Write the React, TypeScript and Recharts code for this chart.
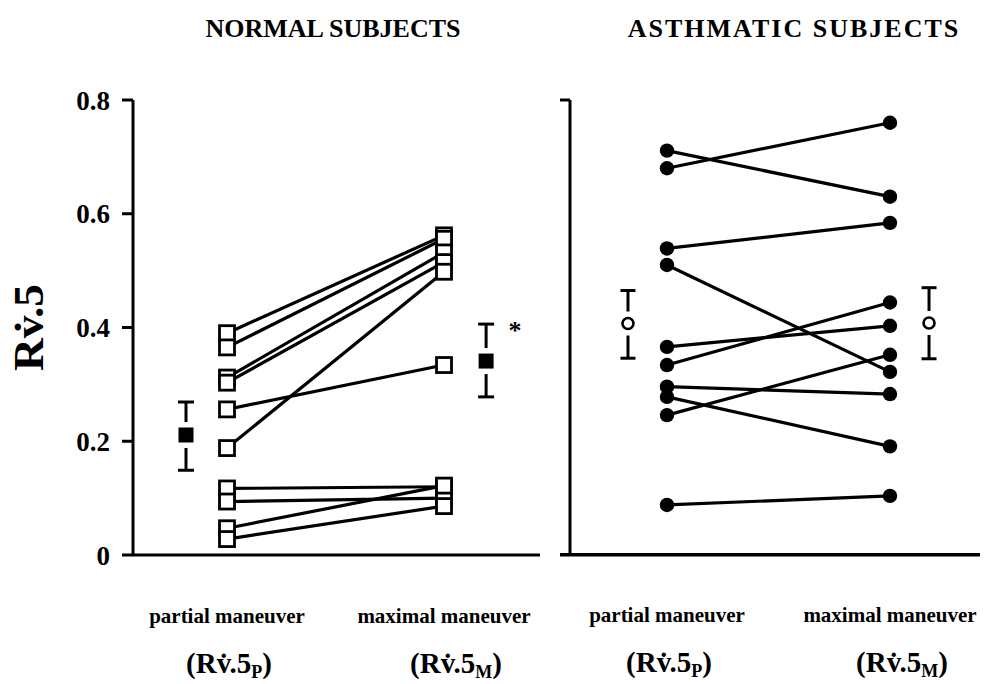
import React from 'react';
import { ScatterChart, Scatter, XAxis, YAxis, ErrorBar, ReferenceLine } from 'recharts';

// ---------- data ----------
const categories = ['partial maneuver', 'maximal maneuver'];
const categorySymbolSub = ['P', 'M'];
const panelTitles = ['NORMAL SUBJECTS', 'ASTHMATIC SUBJECTS'];
const yTicks = [0, 0.2, 0.4, 0.6, 0.8];
const yLabel = 'Rv\u0307.5';

// individual subjects (partial -> maximal)
const normalPartial = [0.39, 0.365, 0.312, 0.303, 0.188, 0.256, 0.117, 0.094, 0.047, 0.028];
const normalMaximal = [0.562, 0.556, 0.532, 0.515, 0.498, 0.334, 0.12, 0.1, 0.122, 0.086];

const asthmaPartial = [0.711, 0.68, 0.539, 0.51, 0.366, 0.334, 0.296, 0.278, 0.246, 0.088];
const asthmaMaximal = [0.63, 0.76, 0.584, 0.322, 0.403, 0.444, 0.283, 0.191, 0.352, 0.104];

// group means with error (below, above)
const normalMean = [0.211, 0.341];
const normalMeanErr = [[0.062, 0.058], [0.063, 0.065]];
const normalSig = [false, true];

const asthmaMean = [0.407, 0.408];
const asthmaMeanErr = [[0.061, 0.058], [0.063, 0.062]];
const asthmaSig = [false, false];

// ---------- layout constants (axis units) ----------
const CAT_X = [1, 2];
const LABEL_DX = [2, 12];
const FONT = '"Liberation Serif", "DejaVu Serif", serif';
const N_DOMAIN: [number, number] = [0.5668, 4.47];
const N_FRAME = [0.5668, 2.4424];
const A_DOMAIN: [number, number] = [-1.3946, 2.4036];
const A_AXIS_X = 0.565;
const A_TICK_START = 0.52;
const A_FRAME = [A_TICK_START, A_DOMAIN[1]];

const buildLines = (a: number[], b: number[]) =>
  a.map((v, i) => [
    { x: CAT_X[0], y: v },
    { x: CAT_X[1], y: b[i] },
  ]);

const buildMeans = (m: number[], e: number[][], s: boolean[], offsets: number[]) =>
  m.map((v, i) => ({ x: CAT_X[i] + offsets[i], y: v, err: e[i], sig: s[i] }));

const normalLines = buildLines(normalPartial, normalMaximal);
const asthmaLines = buildLines(asthmaPartial, asthmaMaximal);
const normalPoints = normalLines.flat();
const asthmaPoints = asthmaLines.flat();
const normalMeans = buildMeans(normalMean, normalMeanErr, normalSig, [-0.189, 0.194]);
const asthmaMeans = buildMeans(asthmaMean, asthmaMeanErr, asthmaSig, [-0.175, 0.175]);

// ---------- shapes ----------
const Empty = () => <g />;
const OpenSquare = (p: any) => (
  <rect x={p.cx - 7.5} y={p.cy - 7.5} width={15} height={15} fill="#fff" stroke="#000" strokeWidth={2.8} />
);
const FilledDot = (p: any) => <circle cx={p.cx} cy={p.cy} r={7.2} fill="#000" />;
const MeanSquare = (p: any) => (
  <g>
    <rect x={p.cx - 3} y={p.cy - 13} width={6} height={26} fill="#fff" />
    <rect x={p.cx - 7.5} y={p.cy - 7.5} width={15} height={15} fill="#000" />
    {p.payload && p.payload.sig ? (
      <text x={p.cx + 29} y={p.cy - 22} textAnchor="middle" fontFamily={FONT} fontWeight="bold" fontSize={26} fill="#000">
        *
      </text>
    ) : null}
  </g>
);
const MeanCircle = (p: any) => (
  <g>
    <rect x={p.cx - 3} y={p.cy - 12} width={6} height={24} fill="#fff" />
    <circle cx={p.cx} cy={p.cy} r={5.5} fill="#fff" stroke="#000" strokeWidth={2.6} />
  </g>
);

const CategoryTick = (p: any) => {
  const i = CAT_X.indexOf(p.payload.value);
  if (i < 0) return <g />;
  return (
    <g fontFamily={FONT} fontWeight="bold" fill="#000">
      <text x={p.x} y={p.y + 67} textAnchor="middle" fontSize={21}>
        {categories[i]}
      </text>
      <text x={p.x + LABEL_DX[i]} y={p.y + 117} textAnchor="middle" fontSize={29}>
        {'(Rv\u0307.5'}
        <tspan fontSize={18} dy={5}>
          {categorySymbolSub[i]}
        </tspan>
        <tspan dy={-5}>)</tspan>
      </text>
    </g>
  );
};

const YLabel = (p: any) => {
  const vb = p.viewBox || { x: 0, y: 0, width: 0, height: 0 };
  const cx = vb.x - 24;
  const cy = vb.y + vb.height / 2;
  return (
    <text
      x={cx}
      y={cy}
      transform={`rotate(-90 ${cx} ${cy})`}
      textAnchor="middle"
      dominantBaseline="central"
      fontFamily={FONT}
      fontWeight="bold"
      fontSize={42}
      textLength={87}
      lengthAdjust="spacingAndGlyphs"
      fill="#000"
    >
      {yLabel}
    </text>
  );
};

const axisLine = { stroke: '#000', strokeWidth: 3 };
const tickLine = { stroke: '#000', strokeWidth: 3 };

const xAxisCommon = {
  type: 'number' as const,
  dataKey: 'x',
  allowDataOverflow: true,
  ticks: CAT_X,
  tick: <CategoryTick />,
  tickLine: false,
  tickSize: 0,
  tickMargin: 0,
  axisLine: false,
  height: 1,
  interval: 0 as const,
};

const titleStyle = (cx: number, w: number): React.CSSProperties => ({
  position: 'absolute',
  left: cx - w / 2,
  top: 14,
  width: w,
  textAlign: 'center',
  fontFamily: FONT,
  fontWeight: 'bold',
  fontSize: 26,
  lineHeight: '30px',
  whiteSpace: 'nowrap',
  color: '#000',
});

export default function App() {
  return (
    <div style={{ position: 'absolute', left: 0, top: 0, width: 984, height: 684, background: '#fff' }}>
      <div style={{ position: 'absolute', left: 0, top: 0 }}>
        <ScatterChart width={984} height={684} margin={{ top: 100, right: 4, bottom: 127, left: 53 }}>
          <XAxis xAxisId="a" domain={A_DOMAIN} {...xAxisCommon} />
          <XAxis xAxisId="n" domain={N_DOMAIN} {...xAxisCommon} />
          <YAxis
            yAxisId="y"
            type="number"
            dataKey="y"
            domain={[0, 0.8]}
            ticks={yTicks}
            width={80}
            axisLine={axisLine}
            tickLine={tickLine}
            tickSize={11}
            tickMargin={12}
            interval={0}
            tick={{ fontFamily: FONT, fontWeight: 'bold', fontSize: 27, fill: '#000' }}
            tickFormatter={(v: number) => (v === 0 ? '0' : v.toFixed(1))}
            label={<YLabel />}
          />
          {/* panel frames */}
          <ReferenceLine
            xAxisId="n"
            yAxisId="y"
            segment={[
              { x: N_FRAME[0], y: 0 },
              { x: N_FRAME[1], y: 0 },
            ]}
            stroke="#000"
            strokeWidth={3}
            ifOverflow="visible"
          />
          <ReferenceLine
            xAxisId="a"
            yAxisId="y"
            segment={[
              { x: A_FRAME[0], y: 0 },
              { x: A_FRAME[1], y: 0 },
            ]}
            stroke="#000"
            strokeWidth={3}
            ifOverflow="visible"
          />
          <ReferenceLine xAxisId="a" yAxisId="y" x={A_AXIS_X} stroke="#000" strokeWidth={3} ifOverflow="visible" />
          <ReferenceLine
            xAxisId="a"
            yAxisId="y"
            segment={[
              { x: A_TICK_START, y: 0.8 },
              { x: A_AXIS_X, y: 0.8 },
            ]}
            stroke="#000"
            strokeWidth={3}
            ifOverflow="visible"
          />
          {/* subject lines */}
          {normalLines.map((d, i) => (
            <Scatter
              key={'n' + i}
              xAxisId="n"
              yAxisId="y"
              data={d}
              line={{ stroke: '#000', strokeWidth: 3.2 }}
              shape={Empty}
              isAnimationActive={false}
              legendType="none"
            />
          ))}
          {asthmaLines.map((d, i) => (
            <Scatter
              key={'a' + i}
              xAxisId="a"
              yAxisId="y"
              data={d}
              line={{ stroke: '#000', strokeWidth: 3.2 }}
              shape={Empty}
              isAnimationActive={false}
              legendType="none"
            />
          ))}
          {/* subject markers */}
          <Scatter xAxisId="n" yAxisId="y" data={normalPoints} shape={OpenSquare} isAnimationActive={false} legendType="none" />
          <Scatter xAxisId="a" yAxisId="y" data={asthmaPoints} shape={FilledDot} isAnimationActive={false} legendType="none" />
          {/* group means with error bars */}
          <Scatter xAxisId="n" yAxisId="y" data={normalMeans} shape={Empty} isAnimationActive={false} legendType="none">
            <ErrorBar dataKey="err" direction="y" width={8} stroke="#000" strokeWidth={3} />
          </Scatter>
          <Scatter xAxisId="a" yAxisId="y" data={asthmaMeans} shape={Empty} isAnimationActive={false} legendType="none">
            <ErrorBar dataKey="err" direction="y" width={7.5} stroke="#000" strokeWidth={3} />
          </Scatter>
          <Scatter xAxisId="n" yAxisId="y" data={normalMeans} shape={MeanSquare} isAnimationActive={false} legendType="none" />
          <Scatter xAxisId="a" yAxisId="y" data={asthmaMeans} shape={MeanCircle} isAnimationActive={false} legendType="none" />
        </ScatterChart>
      </div>
      {/* asthmatic panel bottom frame edge */}
      <div style={{ position: 'absolute', left: 560, top: 553, width: 420, height: 3, background: '#000' }} />
      <div style={titleStyle(333, 300)}>{panelTitles[0]}</div>
      <div style={{ ...titleStyle(794, 380), letterSpacing: '2px' }}>{panelTitles[1]}</div>
    </div>
  );
}
